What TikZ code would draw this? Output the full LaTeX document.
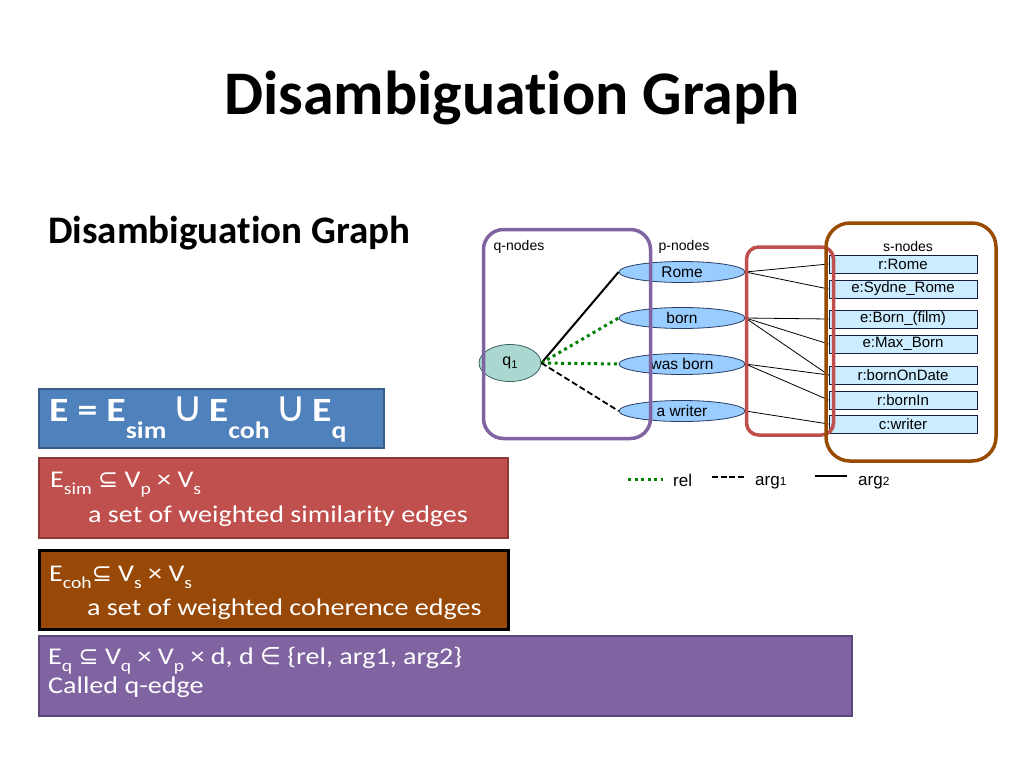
\documentclass[tikz,border=0pt]{standalone}
\usepackage{fontspec,graphicx,xcolor}
\setmainfont{Carlito}[Ligatures=NoCommon]
\newfontfamily\slidefont{Carlito}[Ligatures=NoCommon,FakeStretch=1.17]
\newfontfamily\diagfont{Liberation Sans}
\newfontfamily\symfont{DejaVu Sans}
\definecolor{slblue}{RGB}{79,129,189}
\definecolor{slblueline}{RGB}{56,93,138}
\definecolor{slred}{RGB}{192,80,77}
\definecolor{slredline}{RGB}{140,56,54}
\definecolor{slbrown}{RGB}{152,72,7}
\definecolor{slpurple}{RGB}{128,100,162}
\definecolor{slpurpleline}{RGB}{92,71,118}
\definecolor{qfill}{RGB}{170,215,208}
\definecolor{qline}{RGB}{60,100,100}
\definecolor{pfill}{RGB}{153,204,255}
\definecolor{pline}{RGB}{40,60,100}
\definecolor{sfill}{RGB}{204,236,255}
\definecolor{sline}{RGB}{20,30,60}
\definecolor{grpbrown}{RGB}{153,76,0}
\definecolor{relgreen}{RGB}{0,128,0}
\usetikzlibrary{shapes.geometric}
\newcommand\lo[2][0.3em]{\raisebox{-#1}{\scalebox{0.7}{#2}}}
\newcommand\sym[1]{{\symfont #1}}
\newcommand\setunion{\,{\symfont\mdseries\scalebox{1.25}{∪}}\,}

\begin{document}
\begin{tikzpicture}[x=1pt,y=-1pt,
  slidebox/.style={draw,line width=1.5,anchor=north west,inner sep=0pt},
  slidetext/.style={anchor=base west,inner sep=0pt,text=white,font=\slidefont\fontsize{24}{28}\selectfont},
  pnode/.style={ellipse,draw=pline,fill=pfill,line width=0.8,inner sep=0pt,
    minimum width=126,minimum height=21,font=\diagfont\fontsize{15.5}{16}\selectfont},
  snode/.style={rectangle,draw=sline,fill=sfill,line width=0.8,inner sep=0pt,
    minimum width=148,minimum height=18,font=\diagfont\fontsize{15}{16}\selectfont},
  grpbox/.style={draw,line width=3.5,inner sep=0pt},
  lbl/.style={inner sep=0pt,font=\diagfont\fontsize{14}{15}\selectfont},
  leg/.style={anchor=base west,inner sep=0pt,font=\diagfont\fontsize{17}{18}\selectfont},
  simline/.style={line width=0.8,black},
  relline/.style={relgreen,line width=3,dash pattern=on 3pt off 3.6pt},
  argone/.style={black,line width=1.8,dash pattern=on 6pt off 3pt},
  argtwo/.style={black,line width=2}
]
  \useasboundingbox[fill=white] (0,0) rectangle (1024,768);

  % titles
  \node[anchor=base,inner sep=0pt,font=\bfseries\fontsize{62}{70}\selectfont] (title) at (512,114) {Disambiguation Graph};
  \node[anchor=base west,inner sep=0pt,font=\bfseries\fontsize{39}{44}\selectfont] (subtitle) at (48,243) {Disambiguation Graph};

  % edge set boxes
  \node[slidebox,fill=slblue,draw=slblueline,minimum width=345,minimum height=59] (eall) at (38,388) {};
  \node[slidetext,font=\slidefont\bfseries\fontsize{34}{40}\selectfont] (ealltext) at (49,421)
    {E = E\lo[0.5em]{sim}\setunion E\lo[0.5em]{coh}\setunion E\lo[0.5em]{q}};
  \node[slidebox,fill=slred,draw=slredline,minimum width=469,minimum height=80] (esim) at (38,457) {};
  \node[slidetext] (esimone) at (50,487) {E\lo{sim} \sym{⊆} V\lo{p} × V\lo{s}};
  \node[slidetext] (esimtwo) at (88,522) {a set of weighted similarity edges};
  \node[slidebox,fill=slbrown,draw=black,line width=3,minimum width=469,minimum height=79] (ecoh) at (38,549) {};
  \node[slidetext] (ecohone) at (49,581) {E\lo{coh}\sym{⊆} V\lo{s} × V\lo{s}};
  \node[slidetext] (ecohtwo) at (87,615) {a set of weighted coherence edges};
  \node[slidebox,fill=slpurple,draw=slpurpleline,minimum width=813,minimum height=80] (eq) at (38,635) {};
  \node[slidetext] (eqone) at (48,664) {E\lo{q} \sym{⊆} V\lo{q} × V\lo{p} × d, d \sym{∈} \{rel, arg1, arg2\}};
  \node[slidetext] (eqtwo) at (48,693) {Called q-edge};

  % graph nodes
  \node[ellipse,draw=qline,fill=qfill,line width=0.8,inner sep=0pt,minimum width=62,minimum height=37,
    font=\diagfont\fontsize{16}{17}\selectfont] (q1) at (510,363) {q\lo[0.2em]{1}};
  \node[pnode] (prome) at (682,272) {Rome};
  \node[pnode] (pborn) at (682,318) {born};
  \node[pnode] (pwasborn) at (682,364) {was born};
  \node[pnode] (pwriter) at (682,411) {a writer};

  \node[snode] (srome) at (903,264) {r:Rome};
  \node[snode] (ssydne) at (903,289) {e:Sydne\_Rome};
  \node[snode] (sbornfilm) at (903,319) {e:Born\_(film)};
  \node[snode] (smaxborn) at (903,344) {e:Max\_Born};
  \node[snode] (sbornon) at (903,375) {r:bornOnDate};
  \node[snode] (sbornin) at (903,400) {r:bornIn};
  \node[snode] (swriter) at (903,424) {c:writer};

  % q-edges
  \draw[argtwo] (q1.east) -- (prome.west);
  \draw[relline] (q1.east) -- (pborn.west);
  \draw[relline] (q1.east) -- (pwasborn.west);
  \draw[argone] (q1.east) -- (pwriter.west);

  % similarity edges
  \foreach \p/\s in {prome/srome,prome/ssydne,pborn/sbornfilm,pborn/smaxborn,pborn/sbornon,
                     pwasborn/sbornon,pwasborn/sbornin,pwriter/swriter}
    \draw[simline] (\p.east) -- (\s.west);

  % groups
  \node[grpbox,draw=slpurple,rounded corners=20,minimum width=167,minimum height=209] (qgroup) at (567,334) {};
  \node[grpbox,draw=slred,rounded corners=12,minimum width=87,minimum height=188] (pgroup) at (790,341) {};
  \node[grpbox,draw=grpbrown,rounded corners=24,minimum width=170,minimum height=238] (sgroup) at (911,342) {};
  \node[lbl] (qlabel) at (519,247) {q-nodes};
  \node[lbl] (plabel) at (684,247) {p-nodes};
  \node[lbl] (slabel) at (908,246) {s-nodes};

  % legend
  \coordinate (rela) at (628,479);
  \coordinate (relb) at (663,479);
  \coordinate (argonea) at (712,477);
  \coordinate (argoneb) at (744,477);
  \coordinate (argtwoa) at (815,476);
  \coordinate (argtwob) at (847,476);
  \draw[relline] (rela) -- (relb);
  \draw[black,line width=2.5,dash pattern=on 6pt off 2.5pt] (argonea) -- (argoneb);
  \draw[black,line width=2.5] (argtwoa) -- (argtwob);
  \node[leg] (rellbl) at (673,486) {rel};
  \node[leg] (argonelbl) at (755,485) {arg\scalebox{0.7}{1}};
  \node[leg] (argtwolbl) at (858,485) {arg\scalebox{0.7}{2}};
\end{tikzpicture}
\end{document}
